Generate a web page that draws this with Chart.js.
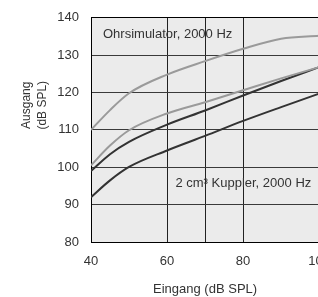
<!DOCTYPE html>
<html>
<head>
<meta charset="utf-8">
<script src="https://cdn.jsdelivr.net/npm/chart.js@4/dist/chart.umd.min.js"></script>
<style>
  html, body { margin: 0; padding: 0; background: #fff; overflow: hidden; }
  #wrap { width: 342px; height: 299px; margin-top: -2px; }
</style>
</head>
<body>
<div id="wrap"><canvas id="pegel" width="342" height="299"></canvas></div>
<script>
// Eingang (dB SPL)
var eingang = [40, 45, 50, 60, 70, 80, 90, 100];
// Ausgang (dB SPL)
var ohrOben = [110, 115.3, 119.8, 124.8, 128.4, 131.7, 134.4, 135.2];
var ohrUnten = [100.5, 105.8, 109.9, 114.4, 117.4, 120.6, 123.8, 126.8];
var kupplerOben = [99, 103.5, 106.8, 111.4, 115.2, 119.2, 123.1, 126.8];
var kupplerUnten = [92, 96.5, 100.1, 104.5, 108.4, 112.4, 116.1, 119.7];

var xTicks = [40, 60, 80, 100];
var yTicks = [80, 90, 100, 110, 120, 130, 140];
var xGridLines = [60, 70, 80];

function punkte(werte) {
    return eingang.map(function (x, i) { return { x: x, y: werte[i] }; });
}

var schrift = "'Liberation Sans', Arial, Helvetica, sans-serif";

var hintergrund = {
    id: 'hintergrund',
    beforeDraw: function (chart) {
        var a = chart.chartArea;
        var ctx = chart.ctx;
        ctx.save();
        ctx.fillStyle = '#ebebeb';
        ctx.fillRect(a.left, a.top, a.right - a.left, a.bottom - a.top);
        ctx.restore();
    }
};

var beschriftung = {
    id: 'beschriftung',
    afterDatasetsDraw: function (chart) {
        var ctx = chart.ctx;
        var x = chart.scales.x;
        var y = chart.scales.y;
        ctx.save();
        ctx.fillStyle = '#333';
        ctx.font = '13px ' + schrift;
        ctx.textBaseline = 'middle';
        ctx.textAlign = 'left';
        ctx.fillText('Ohrsimulator, 2000 Hz', x.left + 12, y.getPixelForValue(135.5));
        ctx.fillText('2 cm\u00b3 Kuppler, 2000 Hz', x.getPixelForValue(62.2), y.getPixelForValue(95.6));

        // y axis title, two lines
        ctx.font = '12px ' + schrift;
        ctx.textAlign = 'center';
        ctx.translate(35, y.getPixelForValue(116.6));
        ctx.rotate(-Math.PI / 2);
        ctx.fillText('Ausgang', 0, -8);
        ctx.fillText('(dB SPL)', 0, 8);
        ctx.restore();
    }
};

var canvasElement = document.getElementById("pegel");
var config = {
    type: "line",
    data: {
        datasets: [{
                label: "Ohrsimulator oben",
                data: punkte(ohrOben),
                borderColor: "#9a9a9a"
            },
            {
                label: "Ohrsimulator unten",
                data: punkte(ohrUnten),
                borderColor: "#9a9a9a"
            },
            {
                label: "Kuppler oben",
                data: punkte(kupplerOben),
                borderColor: "#333333"
            },
            {
                label: "Kuppler unten",
                data: punkte(kupplerUnten),
                borderColor: "#333333"
            }
        ]
    },
    options: {
        responsive: false,
        animation: false,
        layout: {
            padding: { top: 14, right: 16, left: 0, bottom: 0 }
        },
        elements: {
            point: { radius: 0 },
            line: { borderWidth: 2, cubicInterpolationMode: 'monotone' }
        },
        plugins: {
            legend: { display: false },
            tooltip: { enabled: false }
        },
        scales: {
            x: {
                type: 'linear',
                min: 40,
                max: 100,
                afterFit: function (scale) { scale.height = 55; },
                afterBuildTicks: function (scale) {
                    scale.ticks = [40, 50, 60, 70, 80, 90, 100].map(function (v) { return { value: v }; });
                },
                border: { display: true, color: '#000', width: 1 },
                grid: {
                    drawTicks: false,
                    color: function (c) {
                        return c.tick && xGridLines.indexOf(c.tick.value) >= 0 ? '#222' : 'rgba(0,0,0,0)';
                    },
                    lineWidth: 1
                },
                ticks: {
                    autoSkip: false,
                    maxRotation: 0,
                    padding: 12,
                    color: '#333',
                    font: { size: 13, family: schrift },
                    callback: function (v) { return xTicks.indexOf(v) >= 0 ? v : ''; }
                },
                title: {
                    display: true,
                    text: 'Eingang (dB SPL)',
                    color: '#333',
                    font: { size: 13, family: schrift },
                    padding: { top: 5, bottom: 0 }
                }
            },
            y: {
                min: 80,
                max: 140,
                afterFit: function (scale) { scale.width = 91; },
                afterBuildTicks: function (scale) {
                    scale.ticks = yTicks.map(function (v) { return { value: v }; });
                },
                border: { display: true, color: '#000', width: 1 },
                grid: {
                    drawTicks: false,
                    color: function (c) {
                        return c.tick && c.tick.value === 140 ? '#000' : '#3a3a3a';
                    },
                    lineWidth: 1
                },
                ticks: {
                    padding: 12,
                    color: '#333',
                    font: { size: 13, family: schrift }
                }
            }
        }
    },
    plugins: [hintergrund, beschriftung]
};
var pegelChart = new Chart(canvasElement, config);
</script>
</body>
</html>
